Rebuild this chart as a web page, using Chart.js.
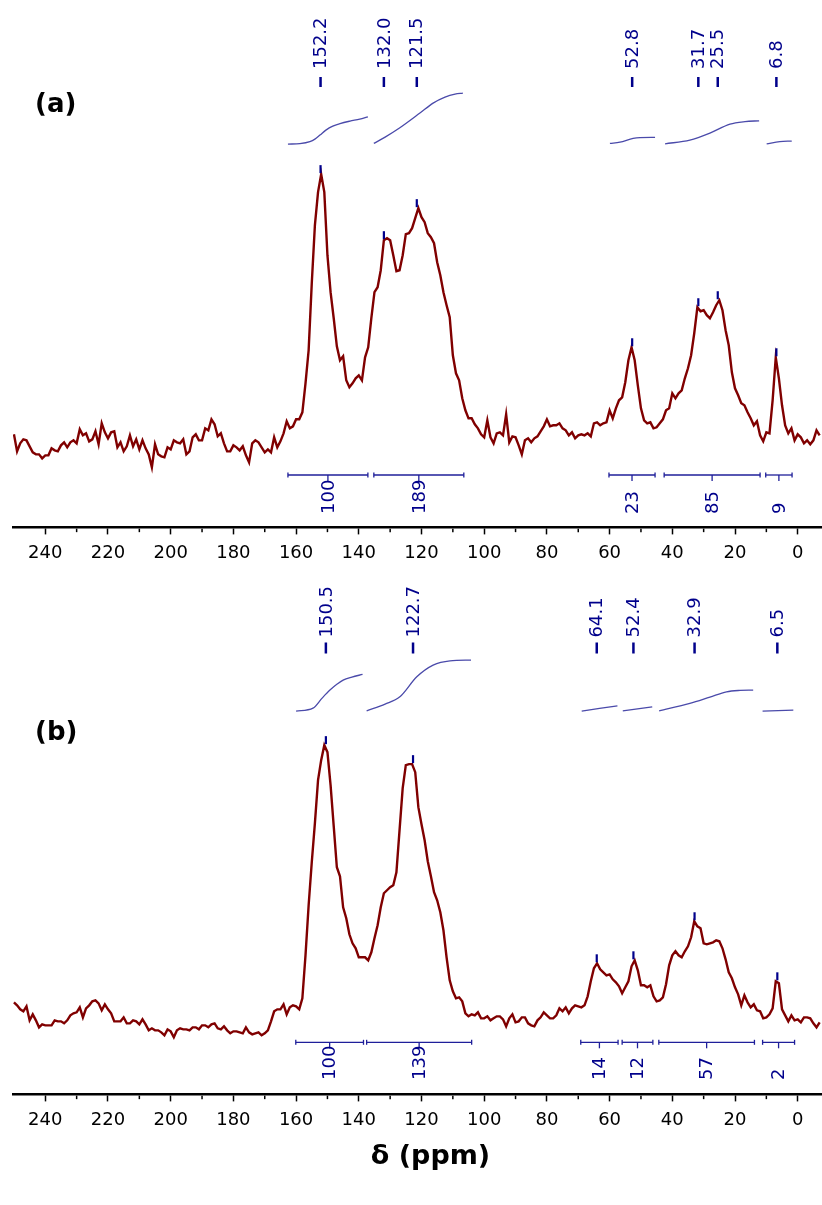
<!DOCTYPE html>
<html><head><meta charset="utf-8">
<script src="https://cdn.jsdelivr.net/npm/chart.js@4.4.1/dist/chart.umd.min.js"></script>
<style>
html,body{margin:0;padding:0;background:#fff;}
#wrap{position:relative;width:822px;height:1205px;overflow:hidden;}
canvas{position:absolute;left:0;}
#ca{top:0;} #cb{top:563px;}
</style></head><body>
<div id="wrap"><canvas id="ca" width="822" height="572"></canvas><canvas id="cb" width="822" height="642"></canvas></div>
<script>
// chemical shift grid (ppm)
const chemicalShifts = [250,249,248,247,246,245,244,243,242,241,240,239,238,237,236,235,234,233,232,231,230,229,228,227,226,225,224,223,222,221,220,219,218,217,216,215,214,213,212,211,210,209,208,207,206,205,204,203,202,201,200,199,198,197,196,195,194,193,192,191,190,189,188,187,186,185,184,183,182,181,180,179,178,177,176,175,174,173,172,171,170,169,168,167,166,165,164,163,162,161,160,159,158,157,156,155,154,153,152,151,150,149,148,147,146,145,144,143,142,141,140,139,138,137,136,135,134,133,132,131,130,129,128,127,126,125,124,123,122,121,120,119,118,117,116,115,114,113,112,111,110,109,108,107,106,105,104,103,102,101,100,99,98,97,96,95,94,93,92,91,90,89,88,87,86,85,84,83,82,81,80,79,78,77,76,75,74,73,72,71,70,69,68,67,66,65,64,63,62,61,60,59,58,57,56,55,54,53,52,51,50,49,48,47,46,45,44,43,42,41,40,39,38,37,36,35,34,33,32,31,30,29,28,27,26,25,24,23,22,21,20,19,18,17,16,15,14,13,12,11,10,9,8,7,6,5,4,3,2,1,0,-1,-2,-3,-4,-5,-6,-7];

// spectrum (a) intensities (a.u.)
const intensityA = [16,-1,7,11,10,4,-2,-4,-4,-8,
-5,-5,2,0,-1,5,8,3,8,10,
7,21,15,17,9,11,19,6,27,18,
12,18,19,3,8,-1,4,15,4,11,
1,10,2,-4,-17,6,-4,-6,-7,3,
1,10,8,7,11,-4,-1,13,16,10,
10,22,20,31,26,14,17,7,-1,-1,
5,3,0,4,-5,-12,7,10,8,3,
-2,1,-2,13,3,9,17,29,22,24,
31,31,38,67,100,167,225,258,276,258,
195,158,132,104,90,94,70,63,67,72,
75,70,93,103,132,158,163,180,210,212,
210,195,179,180,195,216,217,222,232,242,
233,228,217,213,207,188,175,158,145,133,
95,77,70,52,40,32,32,26,22,16,
13,30,13,7,17,18,15,36,8,14,
13,5,-4,10,12,8,12,14,19,24,
31,24,25,25,27,22,20,15,18,12,
15,16,15,17,14,27,28,25,27,28,
40,32,42,50,53,68,90,103,90,65,
42,30,27,28,22,23,27,31,40,42,
57,52,57,60,72,82,95,117,143,139,
140,135,132,138,145,150,140,120,105,78,
62,55,47,45,38,32,25,29,15,9,
18,17,50,93,72,45,25,17,22,10,
16,13,7,10,6,10,20,15];

// spectrum (b) intensities (a.u.)
const intensityB = [38,35,31,29,34,20,26,20,13,16,
15,15,15,20,19,19,17,20,25,27,
28,33,23,32,35,39,40,37,30,36,
31,27,19,19,19,23,17,17,20,19,
16,21,16,10,12,10,10,8,5,11,
9,3,10,12,11,11,10,13,13,11,
15,15,13,16,17,12,11,14,10,7,
9,9,8,7,13,8,6,7,8,5,
7,10,19,29,31,31,36,26,33,35,
34,31,42,85,135,178,217,260,280,295,
288,255,214,173,164,133,122,106,97,92,
83,83,83,80,88,102,115,133,147,150,
153,155,168,210,252,275,276,276,268,233,
216,200,179,164,148,140,128,110,83,60,
49,42,43,39,27,24,26,25,28,22,
22,24,20,22,24,24,21,14,22,26,
18,19,23,23,17,15,14,20,23,28,
25,22,22,25,32,29,33,27,32,35,
34,33,35,44,59,72,77,71,68,65,
66,61,58,54,47,53,59,74,80,70,
55,55,53,55,44,39,40,43,56,75,
85,89,85,83,89,94,103,119,114,112,
97,96,97,98,100,99,92,81,68,62,
53,46,35,45,38,33,36,30,29,22,
23,26,32,59,57,31,25,19,25,20,
21,18,23,23,22,17,13,18];

const tickValues = [240,220,200,180,160,140,120,100,80,60,40,20,0];
const minorTickValues = [230,210,190,170,150,130,110,90,70,50,30,10];

const peaksA = [152.2,132.0,121.5,52.8,31.7,25.5,6.8];
const peaksB = [150.5,122.7,64.1,52.4,32.9,6.5];

const integralRangesA = [[162.6,137.1],[135.2,106.5],[60.2,45.5],[42.6,12.0],[10.2,1.8]];
const integralValuesA = [100,189,23,85,9];
const integralRangesB = [[160.1,138.5],[137.5,104.0],[69.2,57.3],[56.0,46.2],[44.3,13.8],[11.2,1.0]];
const integralValuesB = [100,139,14,12,57,2];

// integral curves: shift positions and cumulative values
const integralCurvePpmA = [
 [162.6,158.8,155.6,154.0,152.4,150.5,148.3,146.0,142.8,139.7,137.1],
 [135.2,131.6,126.9,120.5,116.3,112.5,109.3,106.8],
 [59.9,56.7,52.5,50.3,45.5],
 [42.3,34.4,28.0,21.6,16.8,12.3],
 [9.9,5.7,1.9]];
const integralCurveValA = [
 [306,306.5,308.5,311,315,320,324,326.5,329,331,333.3],
 [306.7,313,322.3,337,347,353,356,357],
 [306.7,308,311.7,312.5,312.7],
 [306.3,310,317,326,328.5,329.3],
 [306.3,308.5,309]];
const integralCurvePpmB = [
 [160.0,154.6,151.7,149.2,146.9,145.0,142.2,138.8],
 [137.5,131.6,126.9,121.5,116.3,110.9,104.2],
 [68.9,57.5],
 [55.8,46.4],
 [44.2,34.4,28.0,22.7,18.4,14.2],
 [11.2,1.4]];
const integralCurveValB = [
 [329,332,342,350,356,360,363,365.7],
 [329.3,336,343.3,363.3,375,379.3,380],
 [329,334.3],
 [329.3,333.3],
 [329.3,336.7,343,348.3,349.7,350],
 [329,330]];

const NAVY = '#00008b';
const BAR = '#1f1f9a';
const CURVE = '#4a4aaa';
const FONT = '"DejaVu Sans"';
Chart.defaults.font.family = FONT;

function rotText(ctx, txt, x, y) {
  ctx.save(); ctx.translate(x, y); ctx.rotate(-Math.PI / 2);
  ctx.textAlign = 'left'; ctx.textBaseline = 'middle';
  ctx.fillText(txt, 0, 1); ctx.restore();
}
function seg(ctx, x1, y1, x2, y2) { ctx.beginPath(); ctx.moveTo(x1, y1); ctx.lineTo(x2, y2); ctx.stroke(); }

const nmrPlugin = {
  id: 'nmr',
  afterDraw(chart, args, o) {
    const ctx = chart.ctx, xs = chart.scales.x, ys = chart.scales.y, area = chart.chartArea;
    const spec = chart.data.datasets[0].data;
    ctx.save();
    // minor ticks
    ctx.strokeStyle = '#000'; ctx.lineWidth = 1.5;
    const ay = area.bottom + 1.25;
    minorTickValues.forEach(v => { const px = xs.getPixelForValue(v); seg(ctx, px, ay, px, ay + 3.5); });
    // peak labels
    ctx.font = '18px ' + FONT; ctx.fillStyle = NAVY; ctx.strokeStyle = NAVY;
    o.peaks.forEach(p => {
      const px = xs.getPixelForValue(p);
      ctx.lineWidth = 2.5; seg(ctx, px, o.dashTop, px, o.dashBottom);
      rotText(ctx, p.toFixed(1), px, o.labelBase);
      let hi = 0;
      for (let i = 0; i < spec.length - 1; i++) {
        if ((spec[i].x - p) * (spec[i + 1].x - p) <= 0) { hi = Math.max(spec[i].y, spec[i + 1].y); break; }
      }
      const ty = ys.getPixelForValue(hi);
      ctx.lineWidth = 2.2; seg(ctx, px, ty - 9, px, ty - 1);
    });
    // integration bars
    ctx.strokeStyle = BAR; ctx.lineWidth = 1.3;
    o.ranges.forEach((r, k) => {
      const x1 = xs.getPixelForValue(r[0]), x2 = xs.getPixelForValue(r[1]), xc = (x1 + x2) / 2, y = o.barY;
      seg(ctx, x1, y, x2, y);
      seg(ctx, x1, y - 2.5, x1, y + 2.5);
      seg(ctx, x2, y - 2.5, x2, y + 2.5);
      seg(ctx, xc, y, xc, y + 6);
      rotText(ctx, String(o.values[k]), xc, o.barLabelBase);
    });
    // panel tag
    ctx.fillStyle = '#000'; ctx.font = 'bold 26px ' + FONT; ctx.textAlign = 'left'; ctx.textBaseline = 'middle';
    ctx.fillText(o.tag, 35, o.tagY);
    if (o.title) {
      ctx.font = 'bold 27px ' + FONT; ctx.textAlign = 'center';
      ctx.fillText(o.title, o.titleX, o.titleY);
    }
    ctx.restore();
  }
};

function makeChart(id, intens, cPpm, cVal, yMin, yMax, bottomPad, annot) {
  const datasets = [{
    data: chemicalShifts.map((s, i) => ({x: s, y: intens[i]})),
    borderColor: '#800000', borderWidth: 2.4, pointRadius: 0, tension: 0
  }];
  cPpm.forEach((pp, k) => datasets.push({
    data: pp.map((s, i) => ({x: s, y: cVal[k][i]})),
    borderColor: CURVE, borderWidth: 1.3, pointRadius: 0, cubicInterpolationMode: 'monotone'
  }));
  return new Chart(document.getElementById(id), {
    type: 'line',
    data: {datasets},
    options: {
      responsive: false, animation: false, devicePixelRatio: 1,
      layout: {padding: {left: 13, right: 0, top: 0, bottom: bottomPad}},
      scales: {
        x: {
          type: 'linear', reverse: true, min: -7.75, max: 250.3,
          afterBuildTicks: s => { s.ticks = tickValues.map(v => ({value: v})); },
          ticks: {autoSkip: false, maxRotation: 0, padding: 8, color: '#000', font: {size: 18, family: FONT}, callback: v => String(v)},
          grid: {display: true, drawOnChartArea: false, drawTicks: true, tickLength: 7, tickWidth: 1.5, tickColor: '#000'},
          border: {display: true, color: '#000', width: 2.5}
        },
        y: {display: false, min: yMin, max: yMax}
      },
      plugins: {legend: {display: false}, tooltip: {enabled: false}, nmr: annot}
    },
    plugins: [nmrPlugin]
  });
}

makeChart('ca', intensityA, integralCurvePpmA, integralCurveValA, -77, 450, 0, {
  peaks: peaksA, ranges: integralRangesA, values: integralValuesA,
  labelBase: 69, dashTop: 77, dashBottom: 87, barY: 475, barLabelBase: 514,
  tag: '(a)', tagY: 105
});
makeChart('cb', intensityB, integralCurvePpmB, integralCurveValB, -54, 477, 66, {
  peaks: peaksB, ranges: integralRangesB, values: integralValuesB,
  labelBase: 74.5, dashTop: 79.5, dashBottom: 90.5, barY: 479.3, barLabelBase: 517,
  tag: '(b)', tagY: 170, title: 'δ (ppm)', titleX: 430.5, titleY: 594
});
</script>
</body></html>
